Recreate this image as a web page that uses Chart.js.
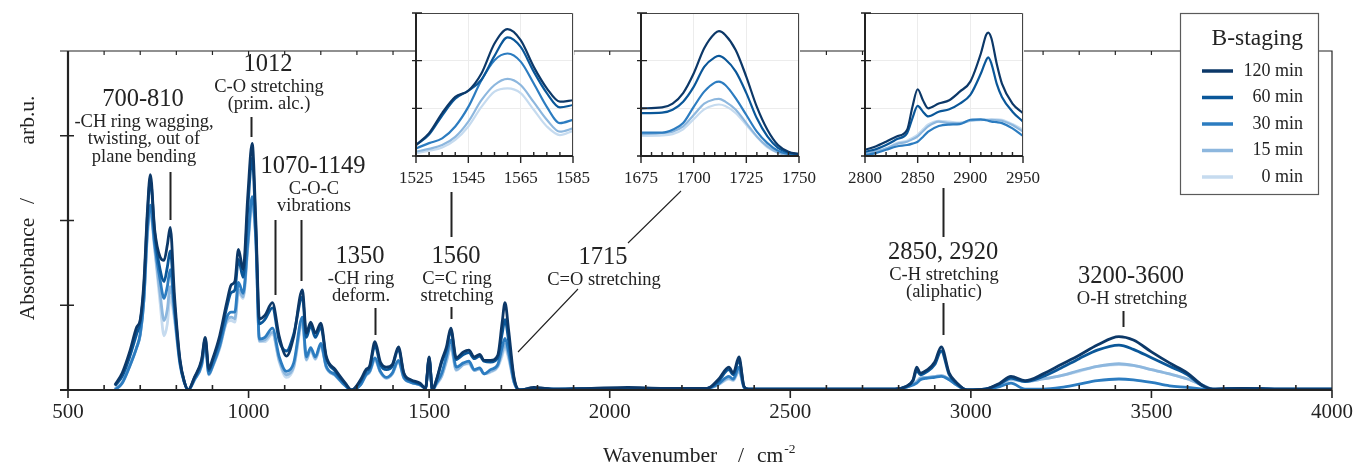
<!DOCTYPE html>
<html>
<head>
<meta charset="utf-8">
<title>FTIR B-staging</title>
<script src="https://cdn.jsdelivr.net/npm/chart.js@4.4.1/dist/chart.umd.min.js"></script>
<style>
  html, body { margin: 0; padding: 0; background: #fff; }
  #wrap { position: relative; width: 1363px; height: 466px; overflow: hidden; }
  #wrap canvas { position: absolute; }
</style>
</head>
<body>
<div id="wrap">
  <canvas id="main" width="1363" height="466" style="left:0;top:0"></canvas>
  <canvas id="inset1"></canvas>
  <canvas id="inset2"></canvas>
  <canvas id="inset3"></canvas>
</div>
<script>
const SERIES = ['120 min', '60 min', '30 min', '15 min', '0 min'];
const COLORS = ['#0c3868', '#0a5799', '#2c7cc0', '#8db7de', '#c6dbef'];

// full spectrum, wavenumber in cm-1, absorbance in arb.u.
const wavenumber = [
  630, 650, 670, 690, 700, 710, 720, 728, 740, 755,
  766, 775, 783, 795, 810, 822, 833, 850, 870, 880,
  890, 900, 920, 940, 952, 962, 972, 985, 998, 1010,
  1020, 1030, 1045, 1066, 1085, 1105, 1125, 1149, 1160, 1172,
  1185, 1200, 1215, 1240, 1268, 1285, 1310, 1325, 1335, 1350,
  1365, 1382, 1398, 1415, 1430, 1450, 1475, 1490, 1500, 1509,
  1520, 1535, 1548, 1560, 1575, 1595, 1610, 1625, 1640, 1652,
  1670, 1690, 1702, 1710, 1720, 1735, 1750, 1790, 1850, 1950,
  2050, 2150, 2270, 2300, 2330, 2342, 2358, 2372, 2385, 2600,
  2790, 2820, 2840, 2850, 2860, 2880, 2900, 2918, 2940, 2960,
  2990, 3040, 3080, 3111, 3150, 3200, 3250, 3300, 3350, 3410,
  3450, 3500, 3550, 3600, 3640, 3670, 3750, 3850, 4000
];
const abs120 = [
  0.06, 0.20, 0.44, 0.74, 0.83, 1.26, 2.12, 2.54, 1.89, 1.57,
  1.53, 1.71, 1.92, 1.10, 0.36, 0.10, 0.00, 0.15, 0.36, 0.62,
  0.25, 0.36, 0.64, 1.04, 1.24, 1.28, 1.66, 1.42, 2.30, 2.91,
  2.00, 0.84, 0.88, 1.03, 0.63, 0.40, 0.63, 1.18, 0.67, 0.80,
  0.67, 0.79, 0.40, 0.24, 0.08, 0.00, 0.12, 0.24, 0.28, 0.57,
  0.33, 0.27, 0.30, 0.51, 0.20, 0.12, 0.08, 0.02, 0.39, 0.00,
  0.12, 0.35, 0.51, 0.73, 0.38, 0.45, 0.47, 0.39, 0.42, 0.35,
  0.35, 0.41, 0.79, 1.03, 0.71, 0.15, 0.00, 0.03, 0.01, 0.02,
  0.03, 0.02, 0.02, 0.12, 0.27, 0.20, 0.39, 0.04, 0.01, 0.01,
  0.01, 0.04, 0.12, 0.27, 0.20, 0.24, 0.33, 0.51, 0.20, 0.09,
  0.00, 0.01, 0.08, 0.16, 0.11, 0.19, 0.30, 0.41, 0.53, 0.63,
  0.59, 0.45, 0.32, 0.20, 0.06, 0.01, 0.02, 0.01, 0.01
];
const abs60 = [
  0.05, 0.16, 0.38, 0.66, 0.80, 1.20, 2.06, 2.48, 1.85, 1.42,
  1.28, 1.45, 1.64, 1.00, 0.34, 0.10, 0.00, 0.14, 0.34, 0.60,
  0.23, 0.34, 0.60, 0.98, 1.15, 1.18, 1.54, 1.33, 2.15, 2.74,
  1.90, 0.78, 0.83, 0.97, 0.58, 0.46, 0.66, 1.10, 0.62, 0.76,
  0.62, 0.74, 0.38, 0.22, 0.07, 0.00, 0.10, 0.22, 0.26, 0.52,
  0.30, 0.24, 0.28, 0.48, 0.19, 0.11, 0.07, 0.02, 0.38, 0.00,
  0.11, 0.33, 0.48, 0.70, 0.36, 0.42, 0.44, 0.37, 0.40, 0.34,
  0.33, 0.38, 0.66, 0.83, 0.58, 0.13, 0.00, 0.02, 0.01, 0.02,
  0.02, 0.02, 0.02, 0.10, 0.24, 0.18, 0.35, 0.04, 0.01, 0.01,
  0.01, 0.04, 0.11, 0.23, 0.18, 0.22, 0.30, 0.46, 0.18, 0.08,
  0.00, 0.01, 0.07, 0.14, 0.10, 0.16, 0.26, 0.37, 0.47, 0.53,
  0.48, 0.38, 0.28, 0.18, 0.05, 0.01, 0.02, 0.01, 0.01
];
const abs30 = [
  0.00, 0.08, 0.27, 0.50, 0.66, 1.06, 1.90, 2.18, 1.72, 1.30,
  1.08, 1.22, 1.42, 0.92, 0.32, 0.09, 0.00, 0.12, 0.30, 0.55,
  0.19, 0.28, 0.52, 0.86, 0.92, 0.92, 1.27, 1.14, 1.75, 2.28,
  1.80, 0.60, 0.62, 0.73, 0.39, 0.22, 0.32, 0.86, 0.39, 0.50,
  0.39, 0.55, 0.28, 0.18, 0.05, 0.00, 0.06, 0.18, 0.22, 0.38,
  0.22, 0.15, 0.20, 0.35, 0.15, 0.09, 0.06, 0.02, 0.36, 0.00,
  0.08, 0.20, 0.40, 0.59, 0.27, 0.32, 0.34, 0.24, 0.26, 0.19,
  0.24, 0.30, 0.50, 0.61, 0.45, 0.10, 0.00, 0.02, 0.01, 0.01,
  0.02, 0.01, 0.02, 0.07, 0.16, 0.13, 0.27, 0.03, 0.01, 0.01,
  0.01, 0.03, 0.06, 0.08, 0.12, 0.14, 0.15, 0.16, 0.12, 0.06,
  0.00, 0.01, 0.04, 0.08, 0.01, 0.01, 0.03, 0.07, 0.11, 0.13,
  0.12, 0.09, 0.05, 0.03, 0.01, 0.00, 0.02, 0.01, 0.01
];
const abs15 = [
  0.01, 0.09, 0.28, 0.50, 0.65, 1.05, 1.85, 2.12, 1.68, 1.14,
  0.82, 0.95, 1.22, 0.86, 0.30, 0.09, 0.00, 0.12, 0.29, 0.53,
  0.18, 0.27, 0.50, 0.82, 0.86, 0.84, 1.18, 1.10, 1.70, 2.22,
  1.77, 0.58, 0.59, 0.68, 0.35, 0.18, 0.28, 0.81, 0.36, 0.48,
  0.37, 0.53, 0.27, 0.17, 0.05, 0.00, 0.06, 0.17, 0.21, 0.36,
  0.21, 0.14, 0.19, 0.34, 0.14, 0.09, 0.06, 0.02, 0.35, 0.00,
  0.07, 0.17, 0.35, 0.52, 0.24, 0.30, 0.32, 0.23, 0.25, 0.19,
  0.22, 0.28, 0.44, 0.54, 0.40, 0.09, 0.00, 0.02, 0.01, 0.01,
  0.02, 0.01, 0.02, 0.06, 0.14, 0.12, 0.23, 0.03, 0.01, 0.01,
  0.01, 0.03, 0.07, 0.10, 0.14, 0.15, 0.16, 0.17, 0.13, 0.06,
  0.00, 0.01, 0.06, 0.13, 0.10, 0.13, 0.17, 0.23, 0.28, 0.31,
  0.29, 0.24, 0.19, 0.13, 0.06, 0.01, 0.02, 0.01, 0.01
];
const abs0 = [
  0.01, 0.08, 0.27, 0.50, 0.65, 1.05, 1.82, 2.08, 1.66, 1.03,
  0.64, 0.78, 1.10, 0.82, 0.30, 0.09, 0.00, 0.12, 0.28, 0.52,
  0.18, 0.27, 0.49, 0.80, 0.82, 0.80, 1.15, 1.08, 1.68, 2.18,
  1.76, 0.57, 0.57, 0.66, 0.33, 0.15, 0.26, 0.78, 0.35, 0.47,
  0.36, 0.52, 0.27, 0.17, 0.05, 0.00, 0.06, 0.17, 0.21, 0.35,
  0.21, 0.14, 0.19, 0.33, 0.14, 0.09, 0.06, 0.02, 0.35, 0.00,
  0.06, 0.16, 0.33, 0.50, 0.23, 0.30, 0.31, 0.23, 0.25, 0.19,
  0.21, 0.27, 0.40, 0.50, 0.37, 0.09, 0.00, 0.02, 0.01, 0.01,
  0.02, 0.01, 0.02, 0.06, 0.13, 0.11, 0.22, 0.03, 0.01, 0.01,
  0.01, 0.03, 0.07, 0.10, 0.14, 0.15, 0.16, 0.17, 0.13, 0.06,
  0.00, 0.01, 0.06, 0.12, 0.10, 0.13, 0.17, 0.22, 0.28, 0.30,
  0.29, 0.24, 0.19, 0.13, 0.06, 0.01, 0.02, 0.01, 0.01
];

// zoomed windows (own scaling)
const ccWn = [1525, 1530, 1535, 1540, 1545, 1550, 1555, 1560, 1565, 1570, 1575, 1580, 1585];
const cc120 = [0.23, 0.48, 0.90, 1.24, 1.37, 1.73, 2.36, 2.66, 2.43, 1.87, 1.42, 1.14, 1.17];
const cc60  = [0.23, 0.45, 0.85, 1.20, 1.37, 1.60, 2.10, 2.49, 2.29, 1.77, 1.32, 1.02, 1.07];
const cc30  = [0.16, 0.27, 0.37, 0.62, 1.03, 1.59, 2.01, 2.15, 1.98, 1.52, 1.03, 0.69, 0.76];
const cc15  = [0.09, 0.15, 0.23, 0.40, 0.72, 1.17, 1.49, 1.62, 1.49, 1.13, 0.76, 0.51, 0.58];
const cc0   = [0.06, 0.11, 0.18, 0.34, 0.62, 1.03, 1.35, 1.42, 1.32, 0.97, 0.62, 0.44, 0.53];

const coWn = [1675, 1685, 1690, 1695, 1700, 1705, 1710, 1712, 1715, 1720, 1725, 1730, 1735, 1740, 1745, 1750];
const co120 = [1.00, 1.02, 1.10, 1.32, 1.73, 2.26, 2.57, 2.62, 2.54, 2.22, 1.66, 1.03, 0.55, 0.23, 0.09, 0.04];
const co60  = [0.90, 0.91, 0.97, 1.14, 1.45, 1.87, 2.07, 2.10, 2.03, 1.77, 1.32, 0.79, 0.41, 0.17, 0.07, 0.03];
const co30  = [0.49, 0.49, 0.55, 0.69, 1.03, 1.35, 1.54, 1.56, 1.49, 1.21, 0.86, 0.51, 0.27, 0.11, 0.04, 0.01];
const co15  = [0.46, 0.48, 0.51, 0.62, 0.86, 1.10, 1.19, 1.20, 1.14, 0.97, 0.69, 0.41, 0.20, 0.07, 0.02, 0.01];
const co0   = [0.42, 0.43, 0.46, 0.56, 0.77, 0.98, 1.07, 1.08, 1.05, 0.90, 0.65, 0.40, 0.18, 0.07, 0.02, 0.01];

const chWn = [2800, 2810, 2820, 2830, 2840, 2845, 2850, 2855, 2860, 2870, 2880, 2890, 2900, 2910, 2915, 2917, 2920, 2925, 2930, 2940, 2950];
const ch120 = [0.13, 0.20, 0.30, 0.41, 0.55, 1.03, 1.40, 1.17, 1.00, 1.10, 1.17, 1.35, 1.56, 2.15, 2.54, 2.59, 2.47, 1.94, 1.52, 1.10, 0.90];
const ch60  = [0.09, 0.14, 0.23, 0.35, 0.48, 0.79, 1.05, 0.93, 0.83, 0.93, 0.98, 1.10, 1.28, 1.73, 2.01, 2.07, 1.94, 1.52, 1.24, 0.93, 0.72];
const ch30  = [0.02, 0.06, 0.13, 0.20, 0.23, 0.26, 0.30, 0.40, 0.51, 0.63, 0.66, 0.67, 0.76, 0.77, 0.75, 0.74, 0.72, 0.71, 0.69, 0.58, 0.42];
const ch15  = [0.06, 0.09, 0.16, 0.25, 0.30, 0.35, 0.41, 0.52, 0.62, 0.72, 0.69, 0.69, 0.74, 0.76, 0.76, 0.76, 0.76, 0.75, 0.74, 0.65, 0.51];
const ch0   = [0.05, 0.09, 0.15, 0.27, 0.32, 0.38, 0.45, 0.56, 0.66, 0.74, 0.72, 0.70, 0.74, 0.75, 0.76, 0.76, 0.77, 0.77, 0.76, 0.67, 0.55];

// band assignments written over the spectrum
const peakNotes = [
  { title: '700-810', sub: ['-CH ring wagging,', 'twisting, out of', 'plane bending'], cx: 143, ty: 100, marks: [[783, 172, 220]] },
  { title: '1012', sub: ['C-O stretching', '(prim. alc.)'], cx: 268, ty: 65, marks: [[1008, 117, 137]] },
  { title: '1070-1149', sub: ['C-O-C', 'vibrations'], cx: 313, ty: 167, marks: [[1074, 220, 295], [1144, 220, 281]] },
  { title: '1350', sub: ['-CH ring', 'deform.'], cx: 360, ty: 257, marks: [[1350, 308, 335]] },
  { title: '1560', sub: ['C=C ring', 'stretching'], cx: 456, ty: 257, marks: [[1561, 307, 319], [1561, 192, 237]] },
  { title: '1715', sub: ['C=O stretching'], cx: 603, ty: 258, marks: [] },
  { title: '2850, 2920', sub: ['C-H stretching', '(aliphatic)'], cx: 943, ty: 253, marks: [[2922, 303, 335], [2922, 188, 237]] },
  { title: '3200-3600', sub: ['O-H stretching'], cx: 1131, ty: 277, marks: [[3420, 311, 327]] }
];

const SERIF = '"Liberation Serif", "Times New Roman", serif';
const INK = '#232323';

function toPoints(xs, ys) {
  return xs.map((x, i) => ({ x, y: ys[i] }));
}

function seriesSets(xs, columns, width) {
  return SERIES.map((label, k) => ({
    label,
    data: toPoints(xs, columns[k]),
    borderColor: COLORS[k],
    borderWidth: width,
    pointRadius: 0,
    cubicInterpolationMode: 'monotone',
    fill: false
  }));
}

const mainFrame = {
  id: 'mainFrame',
  afterDatasetsDraw(chart) {
    const { ctx, chartArea: a } = chart;
    const xs = chart.scales.x, ys = chart.scales.y;
    ctx.save();
    ctx.strokeStyle = INK;
    ctx.lineWidth = 1.2;
    ctx.beginPath();
    ctx.moveTo(a.left - 8, a.top);
    ctx.lineTo(a.right, a.top);
    ctx.lineTo(a.right, a.bottom);
    for (let v = 600; v < 4000; v += 100) {
      const px = xs.getPixelForValue(v);
      ctx.moveTo(px, a.top);
      ctx.lineTo(px, a.top + 4);
    }
    ctx.stroke();

    ctx.lineWidth = 2.2;
    ctx.beginPath();
    ctx.moveTo(a.left, a.top);
    ctx.lineTo(a.left, a.bottom);
    ctx.moveTo(a.left - 8, a.bottom);
    ctx.lineTo(a.right, a.bottom);
    ctx.stroke();

    ctx.lineWidth = 1.6;
    ctx.beginPath();
    for (let v = 1; v < 4; v++) {
      const py = ys.getPixelForValue(v);
      ctx.moveTo(a.left - 8, py);
      ctx.lineTo(a.left + 6, py);
    }
    for (let v = 500; v <= 4000; v += 100) {
      const px = xs.getPixelForValue(v);
      if (v % 500 === 0) {
        ctx.moveTo(px, a.bottom);
        ctx.lineTo(px, a.bottom + 8);
      } else {
        ctx.moveTo(px, a.bottom);
        ctx.lineTo(px, a.bottom - 5);
      }
    }
    ctx.stroke();
    ctx.restore();
  },
  afterDraw(chart) {
    const { ctx } = chart;
    const xs = chart.scales.x;
    ctx.save();
    ctx.fillStyle = INK;
    ctx.strokeStyle = INK;
    ctx.textAlign = 'center';
    ctx.textBaseline = 'middle';

    peakNotes.forEach(n => {
      ctx.font = '24.5px ' + SERIF;
      ctx.fillText(n.title, n.cx, n.ty);
      ctx.font = '18.5px ' + SERIF;
      n.sub.forEach((s, i) => ctx.fillText(s, n.cx + 1, n.ty + 22 + i * 17.5));
      ctx.lineWidth = 2;
      ctx.beginPath();
      n.marks.forEach(([wn, y0, y1]) => {
        const px = Math.round(xs.getPixelForValue(wn)) + 0.5;
        ctx.moveTo(px, y0);
        ctx.lineTo(px, y1);
      });
      ctx.stroke();
    });

    // C=O leader lines
    ctx.lineWidth = 1.1;
    ctx.beginPath();
    ctx.moveTo(681, 191);
    ctx.lineTo(628, 243);
    ctx.moveTo(578, 289);
    ctx.lineTo(518, 352);
    ctx.stroke();

    // axis titles, the slash set apart with wide gaps
    ctx.font = '21.5px ' + SERIF;
    ctx.textBaseline = 'alphabetic';
    ctx.textAlign = 'left';
    ctx.fillText('Wavenumber', 603, 462);
    ctx.fillText('/', 738, 462);
    ctx.fillText('cm', 757, 462);
    const wCm = ctx.measureText('cm').width;
    ctx.font = '13.5px ' + SERIF;
    ctx.fillText('-2', 757 + wCm + 1, 453);

    ctx.save();
    ctx.translate(34, 0);
    ctx.rotate(-Math.PI / 2);
    ctx.font = '21.5px ' + SERIF;
    ctx.textAlign = 'center';
    ctx.fillText('Absorbance', -269, 0);
    ctx.fillText('/', -201, 0);
    ctx.fillText('arb.u.', -120, 0);
    ctx.restore();

    // legend box
    const lx = 1180, ly = 13, lw = 138, lh = 181;
    ctx.fillStyle = '#fff';
    ctx.fillRect(lx, ly, lw, lh);
    ctx.strokeStyle = '#5a5a5a';
    ctx.lineWidth = 1.2;
    ctx.strokeRect(lx + 0.5, ly + 0.5, lw, lh);
    ctx.fillStyle = INK;
    ctx.textAlign = 'right';
    ctx.textBaseline = 'middle';
    ctx.font = '23.5px ' + SERIF;
    ctx.fillText('B-staging', 1303, 39);
    ctx.font = '18px ' + SERIF;
    chart.data.datasets.forEach((ds, k) => {
      const yy = 71 + k * 26.5;
      ctx.strokeStyle = ds.borderColor;
      ctx.lineWidth = 3.5;
      ctx.beginPath();
      ctx.moveTo(1202, yy);
      ctx.lineTo(1233, yy);
      ctx.stroke();
      ctx.fillText(ds.label, 1303, yy);
    });
    ctx.restore();
  }
};

new Chart(document.getElementById('main'), {
  type: 'line',
  data: { datasets: seriesSets(wavenumber, [abs120, abs60, abs30, abs15, abs0], 2.8) },
  options: {
    responsive: false,
    animation: false,
    layout: { padding: { top: 51, right: 25, left: 0, bottom: 0 } },
    plugins: { legend: { display: false }, tooltip: { enabled: false } },
    scales: {
      x: {
        type: 'linear', min: 500, max: 4000,
        afterFit: s => { s.height = 76; },
        grid: { display: false, drawTicks: false },
        border: { display: false },
        ticks: {
          stepSize: 100, autoSkip: false, maxRotation: 0, padding: 10,
          color: INK, font: { family: SERIF, size: 21 },
          callback: v => (v % 500 === 0 ? String(v) : '')
        }
      },
      y: {
        min: 0, max: 4,
        afterFit: s => { s.width = 68; },
        grid: { display: false, drawTicks: false },
        border: { display: false },
        ticks: { display: false, stepSize: 1 }
      }
    }
  },
  plugins: [mainFrame]
});

function insetFrame(minor) {
  return {
    id: 'insetFrame',
    beforeDraw(chart) {
      const { ctx, chartArea: a } = chart;
      ctx.save();
      ctx.fillStyle = '#fff';
      ctx.fillRect(a.left, a.top, a.right - a.left, a.bottom - a.top);
      ctx.restore();
    },
    afterDatasetsDraw(chart) {
      const { ctx, chartArea: a } = chart;
      const xs = chart.scales.x, ys = chart.scales.y;
      ctx.save();
      ctx.strokeStyle = '#444';
      ctx.lineWidth = 1;
      ctx.beginPath();
      ctx.moveTo(a.left, a.top + 0.5);
      ctx.lineTo(a.right - 0.5, a.top + 0.5);
      ctx.lineTo(a.right - 0.5, a.bottom);
      ctx.stroke();
      ctx.strokeStyle = INK;
      ctx.lineWidth = 2;
      ctx.beginPath();
      ctx.moveTo(a.left, a.top);
      ctx.lineTo(a.left, a.bottom);
      ctx.lineTo(a.right, a.bottom);
      ctx.stroke();
      ctx.lineWidth = 1.4;
      ctx.beginPath();
      for (let v = ys.min; v <= ys.max; v++) {
        const py = ys.getPixelForValue(v);
        ctx.moveTo(a.left - 4, py);
        ctx.lineTo(a.left + 6, py);
      }
      const major = chart.options.scales.x.ticks.stepSize;
      for (let v = xs.min; v <= xs.max + 0.01; v += minor) {
        const px = xs.getPixelForValue(v);
        if (Math.abs((v - xs.min) % major) < 0.01) {
          ctx.moveTo(px, a.bottom);
          ctx.lineTo(px, a.bottom + 7);
        } else {
          ctx.moveTo(px, a.bottom);
          ctx.lineTo(px, a.bottom - 4);
        }
      }
      ctx.stroke();
      ctx.restore();
    }
  };
}

function makeInset(id, box, xs, columns, range, major, minor) {
  const cv = document.getElementById(id);
  const padL = 40, padR = 30, padB = 40;
  cv.width = box.right - box.left + padL + padR;
  cv.height = box.bottom + padB;
  cv.style.left = (box.left - padL) + 'px';
  cv.style.top = '0px';
  return new Chart(cv, {
    type: 'line',
    data: { datasets: seriesSets(xs, columns, 2.2) },
    options: {
      responsive: false,
      animation: false,
      layout: { padding: { top: box.top, right: padR, left: 0, bottom: 0 } },
      plugins: { legend: { display: false }, tooltip: { enabled: false } },
      scales: {
        x: {
          type: 'linear', min: range[0], max: range[1],
          afterFit: s => { s.height = padB; },
          grid: { color: '#ececec', drawTicks: false },
          border: { display: false },
          ticks: {
            stepSize: major, autoSkip: false, maxRotation: 0, padding: 12,
            color: INK, font: { family: SERIF, size: 17 },
            callback: v => String(v)
          }
        },
        y: {
          min: 0, max: 3,
          afterFit: s => { s.width = padL; },
          grid: { color: '#ececec', drawTicks: false },
          border: { display: false },
          ticks: { display: false, stepSize: 1 }
        }
      }
    },
    plugins: [insetFrame(minor)]
  });
}

makeInset('inset1', { left: 416, right: 573, top: 13, bottom: 156 }, ccWn,
  [cc120, cc60, cc30, cc15, cc0], [1525, 1585], 20, 5);
makeInset('inset2', { left: 641, right: 799, top: 13, bottom: 156 }, coWn,
  [co120, co60, co30, co15, co0], [1675, 1750], 25, 5);
makeInset('inset3', { left: 865, right: 1023, top: 13, bottom: 156 }, chWn,
  [ch120, ch60, ch30, ch15, ch0], [2800, 2950], 50, 10);
</script>
</body>
</html>
